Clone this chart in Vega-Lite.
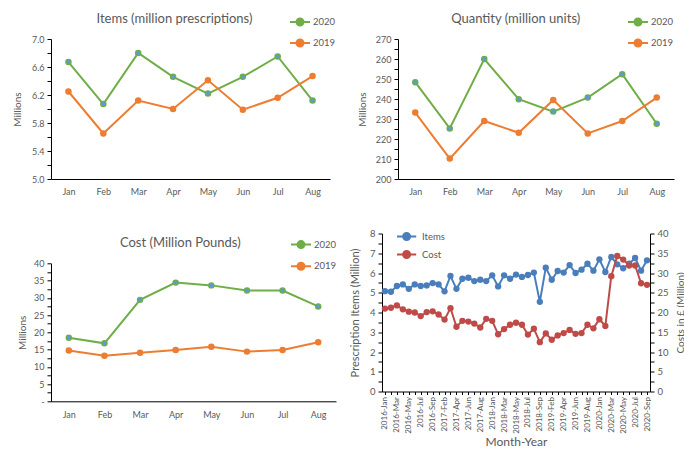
{
  "$schema": "https://vega.github.io/schema/vega-lite/v6.json",
  "padding": {"left": 12, "top": 11, "right": 0, "bottom": 0},
  "background": "white",
  "config": {
    "font": "Lato",
    "view": {"stroke": null},
    "axis": {"grid": false, "domainColor": "#000000", "tickColor": "#000000", "labelColor": "#595959", "titleColor": "#595959", "labelFont": "Lato", "titleFont": "Lato", "labelFontSize": 9, "titleFontSize": 10, "titleFontWeight": "normal", "domainWidth": 1, "tickWidth": 1},
    "title": {"font": "Lato", "fontSize": 13, "fontWeight": "normal", "color": "#595959", "anchor": "middle", "frame": "bounds", "offset": -15},
    "legend": {"labelFont": "Lato", "labelFontSize": 9.5, "labelColor": "#595959"}
  },
  "datasets": {
    "monthly": [
      {"month": "Jan", "year": "2020", "items": 6.67, "quantity": 248.4, "cost": 18.4},
      {"month": "Feb", "year": "2020", "items": 6.07, "quantity": 225.3, "cost": 16.8},
      {"month": "Mar", "year": "2020", "items": 6.80, "quantity": 260.0, "cost": 29.4},
      {"month": "Apr", "year": "2020", "items": 6.46, "quantity": 239.9, "cost": 34.4},
      {"month": "May", "year": "2020", "items": 6.22, "quantity": 233.7, "cost": 33.6},
      {"month": "Jun", "year": "2020", "items": 6.46, "quantity": 240.7, "cost": 32.1},
      {"month": "Jul", "year": "2020", "items": 6.75, "quantity": 252.4, "cost": 32.1},
      {"month": "Aug", "year": "2020", "items": 6.12, "quantity": 227.6, "cost": 27.5},
      {"month": "Jan", "year": "2019", "items": 6.25, "quantity": 233.2, "cost": 14.7},
      {"month": "Feb", "year": "2019", "items": 5.65, "quantity": 210.2, "cost": 13.2},
      {"month": "Mar", "year": "2019", "items": 6.12, "quantity": 229.0, "cost": 14.1},
      {"month": "Apr", "year": "2019", "items": 6.00, "quantity": 223.1, "cost": 14.9},
      {"month": "May", "year": "2019", "items": 6.41, "quantity": 239.5, "cost": 15.8},
      {"month": "Jun", "year": "2019", "items": 5.99, "quantity": 222.8, "cost": 14.4},
      {"month": "Jul", "year": "2019", "items": 6.16, "quantity": 229.0, "cost": 14.9},
      {"month": "Aug", "year": "2019", "items": 6.47, "quantity": 240.7, "cost": 17.1}
    ],
    "series": [
      {"i": 0, "period": "2016-Jan", "items": 5.08, "cost": 21.0},
      {"i": 1, "period": "2016-Feb", "items": 5.05, "cost": 21.2},
      {"i": 2, "period": "2016-Mar", "items": 5.34, "cost": 21.8},
      {"i": 3, "period": "2016-Apr", "items": 5.42, "cost": 20.8},
      {"i": 4, "period": "2016-May", "items": 5.20, "cost": 20.2},
      {"i": 5, "period": "2016-Jun", "items": 5.42, "cost": 20.0},
      {"i": 6, "period": "2016-Jul", "items": 5.34, "cost": 19.1},
      {"i": 7, "period": "2016-Aug", "items": 5.37, "cost": 20.1},
      {"i": 8, "period": "2016-Sep", "items": 5.49, "cost": 20.3},
      {"i": 9, "period": "2017-Jan", "items": 5.42, "cost": 19.5},
      {"i": 10, "period": "2017-Feb", "items": 5.07, "cost": 18.2},
      {"i": 11, "period": "2017-Mar", "items": 5.85, "cost": 21.1},
      {"i": 12, "period": "2017-Apr", "items": 5.20, "cost": 16.4},
      {"i": 13, "period": "2017-May", "items": 5.71, "cost": 17.9},
      {"i": 14, "period": "2017-Jun", "items": 5.76, "cost": 17.7},
      {"i": 15, "period": "2017-Jul", "items": 5.59, "cost": 17.2},
      {"i": 16, "period": "2017-Aug", "items": 5.66, "cost": 16.2},
      {"i": 17, "period": "2017-Sep", "items": 5.59, "cost": 18.4},
      {"i": 18, "period": "2018-Jan", "items": 5.88, "cost": 17.9},
      {"i": 19, "period": "2018-Feb", "items": 5.32, "cost": 14.5},
      {"i": 20, "period": "2018-Mar", "items": 5.88, "cost": 15.8},
      {"i": 21, "period": "2018-Apr", "items": 5.71, "cost": 16.9},
      {"i": 22, "period": "2018-May", "items": 5.92, "cost": 17.4},
      {"i": 23, "period": "2018-Jun", "items": 5.80, "cost": 16.9},
      {"i": 24, "period": "2018-Jul", "items": 5.90, "cost": 14.4},
      {"i": 25, "period": "2018-Aug", "items": 6.02, "cost": 15.9},
      {"i": 26, "period": "2018-Sep", "items": 4.54, "cost": 12.5},
      {"i": 27, "period": "2019-Jan", "items": 6.27, "cost": 14.7},
      {"i": 28, "period": "2019-Feb", "items": 5.66, "cost": 13.1},
      {"i": 29, "period": "2019-Mar", "items": 6.10, "cost": 14.2},
      {"i": 30, "period": "2019-Apr", "items": 6.02, "cost": 14.8},
      {"i": 31, "period": "2019-May", "items": 6.40, "cost": 15.6},
      {"i": 32, "period": "2019-Jun", "items": 6.00, "cost": 14.6},
      {"i": 33, "period": "2019-Jul", "items": 6.17, "cost": 14.8},
      {"i": 34, "period": "2019-Aug", "items": 6.47, "cost": 16.9},
      {"i": 35, "period": "2019-Sep", "items": 6.12, "cost": 16.0},
      {"i": 36, "period": "2020-Jan", "items": 6.69, "cost": 18.3},
      {"i": 37, "period": "2020-Feb", "items": 6.05, "cost": 16.6},
      {"i": 38, "period": "2020-Mar", "items": 6.81, "cost": 29.2},
      {"i": 39, "period": "2020-Apr", "items": 6.44, "cost": 34.3},
      {"i": 40, "period": "2020-May", "items": 6.24, "cost": 33.4},
      {"i": 41, "period": "2020-Jun", "items": 6.47, "cost": 31.9},
      {"i": 42, "period": "2020-Jul", "items": 6.76, "cost": 31.9},
      {"i": 43, "period": "2020-Aug", "items": 6.12, "cost": 27.4},
      {"i": 44, "period": "2020-Sep", "items": 6.64, "cost": 27.0}
    ]
  },
  "resolve": {"scale": {"color": "independent", "fill": "independent"}, "legend": {"color": "independent", "fill": "independent"}},
  "spacing": 31.5,
  "vconcat": [
    {
      "spacing": 21,
      "resolve": {"scale": {"color": "independent", "fill": "independent"}, "legend": {"color": "independent", "fill": "independent"}},
      "hconcat": [
        {
          "title": {"text": "Items (million prescriptions)"},
          "width": 279, "height": 140,
          "data": {"name": "monthly"},
          "encoding": {
            "x": {"field": "month", "type": "nominal", "sort": ["Jan","Feb","Mar","Apr","May","Jun","Jul","Aug"], "scale": {"type": "point", "padding": 0.5}, "axis": {"title": null, "labelAngle": 0, "ticks": false, "labelPadding": 8}},
            "y": {"field": "items", "type": "quantitative", "scale": {"domain": [5, 7], "nice": false, "zero": false}, "axis": {"title": "Millions", "values": [5.0,5.2,5.4,5.6,5.8,6.0,6.2,6.4,6.6,6.8,7.0], "labelExpr": "round(datum.value*10) % 4 == 2 ? format(datum.value, '.1f') : ''", "tickSize": 4, "labelPadding": 3, "titlePadding": 8.5}}
          },
          "layer": [
            {"mark": {"type": "line", "strokeWidth": 2}, "encoding": {"color": {"field": "year", "type": "nominal", "scale": {"domain": ["2020","2019"], "range": ["#70AD47","#ED7D31"]}, "legend": {"title": null, "orient": "none", "legendX": 238, "legendY": -28, "symbolType": "M-1,0L1,0M-0.35,0A0.35,0.35,0,1,1,0.35,0A0.35,0.35,0,1,1,-0.35,0Z", "symbolSize": 400, "symbolStrokeWidth": 2, "rowPadding": 2, "labelOffset": 2}}}},
            {"mark": {"type": "point", "shape": "circle", "size": 42, "filled": true, "opacity": 1}, "encoding": {"color": {"field": "year", "type": "nominal"}}},
            {"mark": {"type": "point", "shape": "circle", "size": 16, "filled": true, "opacity": 1}, "encoding": {"fill": {"field": "year", "type": "nominal", "scale": {"domain": ["2020","2019"], "range": ["#5B9BD5","#ED7D31"]}, "legend": {"title": null, "orient": "none", "legendX": 238, "legendY": -28, "symbolType": "M-1,0L1,0M-0.35,0A0.35,0.35,0,1,1,0.35,0A0.35,0.35,0,1,1,-0.35,0Z", "symbolSize": 400, "symbolStrokeWidth": 2, "rowPadding": 2, "labelOffset": 2}}}}
          ]
        },
        {
          "title": {"text": "Quantity (million units)"},
          "width": 276, "height": 140,
          "data": {"name": "monthly"},
          "encoding": {
            "x": {"field": "month", "type": "nominal", "sort": ["Jan","Feb","Mar","Apr","May","Jun","Jul","Aug"], "scale": {"type": "point", "padding": 0.5}, "axis": {"title": null, "labelAngle": 0, "ticks": false, "labelPadding": 8}},
            "y": {"field": "quantity", "type": "quantitative", "scale": {"domain": [200, 270], "nice": false, "zero": false}, "axis": {"title": "Millions", "values": [200,205,210,215,220,225,230,235,240,245,250,255,260,265,270], "labelExpr": "datum.value % 10 == 0 ? format(datum.value, 'd') : ''", "tickSize": 4, "labelPadding": 3, "titlePadding": 8}}
          },
          "layer": [
            {"mark": {"type": "line", "strokeWidth": 2}, "encoding": {"color": {"field": "year", "type": "nominal", "scale": {"domain": ["2020","2019"], "range": ["#70AD47","#ED7D31"]}, "legend": {"title": null, "orient": "none", "legendX": 229, "legendY": -28, "symbolType": "M-1,0L1,0M-0.35,0A0.35,0.35,0,1,1,0.35,0A0.35,0.35,0,1,1,-0.35,0Z", "symbolSize": 400, "symbolStrokeWidth": 2, "rowPadding": 2, "labelOffset": 2}}}},
            {"mark": {"type": "point", "shape": "circle", "size": 42, "filled": true, "opacity": 1}, "encoding": {"color": {"field": "year", "type": "nominal"}}},
            {"mark": {"type": "point", "shape": "circle", "size": 16, "filled": true, "opacity": 1}, "encoding": {"fill": {"field": "year", "type": "nominal", "scale": {"domain": ["2020","2019"], "range": ["#5B9BD5","#ED7D31"]}, "legend": {"title": null, "orient": "none", "legendX": 229, "legendY": -28, "symbolType": "M-1,0L1,0M-0.35,0A0.35,0.35,0,1,1,0.35,0A0.35,0.35,0,1,1,-0.35,0Z", "symbolSize": 400, "symbolStrokeWidth": 2, "rowPadding": 2, "labelOffset": 2}}}}
          ]
        }
      ]
    },
    {
      "spacing": 6,
      "resolve": {"scale": {"color": "independent", "fill": "independent"}, "legend": {"color": "independent", "fill": "independent"}},
      "hconcat": [
        {
          "spacing": -7.2,
          "resolve": {"scale": {"color": "independent", "fill": "independent"}, "legend": {"color": "independent", "fill": "independent"}},
          "vconcat": [
            {"width": 1, "height": 1, "data": {"values": []}, "mark": "point"},
            {
              "title": {"text": "Cost (Million Pounds)", "offset": -22.7},
              "width": 285, "height": 138,
              "data": {"name": "monthly"},
              "encoding": {
                "x": {"field": "month", "type": "nominal", "sort": ["Jan","Feb","Mar","Apr","May","Jun","Jul","Aug"], "scale": {"type": "point", "padding": 0.5}, "axis": {"title": null, "labelAngle": 0, "ticks": false, "labelPadding": 9}},
                "y": {"field": "cost", "type": "quantitative", "scale": {"domain": [0, 40], "nice": false, "zero": false}, "axis": {"title": "Millions", "values": [0,2.5,5,7.5,10,12.5,15,17.5,20,22.5,25,27.5,30,32.5,35,37.5,40], "labelExpr": "datum.value % 5 == 0 ? (datum.value == 0 ? '-' : format(datum.value, 'd')) : ''", "tickSize": 4, "labelPadding": 3, "titlePadding": 6}}
              },
              "layer": [
                {"mark": {"type": "line", "strokeWidth": 2}, "encoding": {"color": {"field": "year", "type": "nominal", "scale": {"domain": ["2020","2019"], "range": ["#70AD47","#ED7D31"]}, "legend": {"title": null, "orient": "none", "legendX": 233, "legendY": -35.7, "padding": 6, "symbolType": "M-1,0L1,0M-0.35,0A0.35,0.35,0,1,1,0.35,0A0.35,0.35,0,1,1,-0.35,0Z", "symbolSize": 400, "symbolStrokeWidth": 2, "rowPadding": 2.7, "labelOffset": 2}}}},
                {"mark": {"type": "point", "shape": "circle", "size": 42, "filled": true, "opacity": 1}, "encoding": {"color": {"field": "year", "type": "nominal"}}},
                {"mark": {"type": "point", "shape": "circle", "size": 16, "filled": true, "opacity": 1}, "encoding": {"fill": {"field": "year", "type": "nominal", "scale": {"domain": ["2020","2019"], "range": ["#5B9BD5","#ED7D31"]}, "legend": {"title": null, "orient": "none", "legendX": 233, "legendY": -35.7, "padding": 6, "symbolType": "M-1,0L1,0M-0.35,0A0.35,0.35,0,1,1,0.35,0A0.35,0.35,0,1,1,-0.35,0Z", "symbolSize": 400, "symbolStrokeWidth": 2, "rowPadding": 2.7, "labelOffset": 2}}}}
              ]
            }
          ]
        },
        {
          "resolve": {"scale": {"color": "independent", "fill": "independent"}, "legend": {"color": "independent", "fill": "independent"}},
          "hconcat": [
            {
              "width": 268, "height": 158,
              "data": {"name": "series"},
              "encoding": {
                "x": {"field": "period", "type": "nominal", "sort": {"field": "i", "op": "min"}, "scale": {"type": "point", "padding": 0.5}, "axis": {"title": "Month-Year", "titleFontSize": 12, "labelAngle": -90, "labelFontSize": 8, "tickSize": 3, "labelPadding": 2, "titlePadding": 3, "labelExpr": "indexof(['2016-Jan','2016-Mar','2016-May','2016-Jul','2016-Sep','2017-Feb','2017-Apr','2017-Jun','2017-Aug','2018-Jan','2018-Mar','2018-May','2018-Jul','2018-Sep','2019-Feb','2019-Apr','2019-Jun','2019-Aug','2020-Jan','2020-Mar','2020-May','2020-Jul','2020-Sep'], datum.value) >= 0 ? datum.value : ''"}}
              },
              "layer": [
                {
                  "encoding": {
                    "y": {"field": "items", "type": "quantitative", "scale": {"domain": [0, 8], "nice": false}, "axis": {"title": "Prescription Items (Million)", "titleFontSize": 11, "labelFontSize": 9.5, "values": [0,0.5,1,1.5,2,2.5,3,3.5,4,4.5,5,5.5,6,6.5,7,7.5,8], "labelExpr": "datum.value % 1 == 0 ? format(datum.value, 'd') : ''", "tickSize": 4, "labelPadding": 3, "titlePadding": 9}}
                  },
                  "layer": [
                    {"mark": {"type": "line", "strokeWidth": 2}, "encoding": {"color": {"datum": "Items", "type": "nominal", "scale": {"domain": ["Items","Cost"], "range": ["#4A7EBB","#BE4B48"]}, "legend": {"title": null, "orient": "none", "legendX": 17.6, "legendY": -4, "symbolType": "M-1.6,0L1.6,0M-0.58,0A0.58,0.58,0,1,1,0.58,0A0.58,0.58,0,1,1,-0.58,0Z", "symbolSize": 144, "symbolStrokeWidth": 2, "rowPadding": 2, "labelOffset": 8.4}}}},
                    {"mark": {"type": "point", "shape": "circle", "size": 40, "filled": true, "opacity": 1}, "encoding": {"fill": {"datum": "Items", "type": "nominal", "scale": {"domain": ["Items","Cost"], "range": ["#4A7EBB","#BE4B48"]}, "legend": {"title": null, "orient": "none", "legendX": 17.6, "legendY": -4, "symbolType": "M-1.6,0L1.6,0M-0.58,0A0.58,0.58,0,1,1,0.58,0A0.58,0.58,0,1,1,-0.58,0Z", "symbolSize": 144, "symbolStrokeWidth": 2, "rowPadding": 2, "labelOffset": 8.4}}}}
                  ]
                },
                {
                  "encoding": {
                    "y": {"field": "cost", "type": "quantitative", "scale": {"domain": [0, 40], "nice": false}, "axis": {"orient": "right", "title": "Costs in £ (Million)", "titleFontSize": 10, "titleAngle": 270, "titleBaseline": "top", "labelFontSize": 9.5, "values": [0,2.5,5,7.5,10,12.5,15,17.5,20,22.5,25,27.5,30,32.5,35,37.5,40], "labelExpr": "datum.value % 5 == 0 ? format(datum.value, 'd') : ''", "tickSize": 4, "labelPadding": 3, "titlePadding": 7}}
                  },
                  "layer": [
                    {"mark": {"type": "line", "strokeWidth": 2}, "encoding": {"color": {"datum": "Cost", "type": "nominal"}}},
                    {"mark": {"type": "point", "shape": "circle", "size": 40, "filled": true, "opacity": 1}, "encoding": {"fill": {"datum": "Cost", "type": "nominal"}}}
                  ]
                }
              ],
              "resolve": {"scale": {"y": "independent"}}
            }
          ]
        }
      ]
    }
  ]
}
